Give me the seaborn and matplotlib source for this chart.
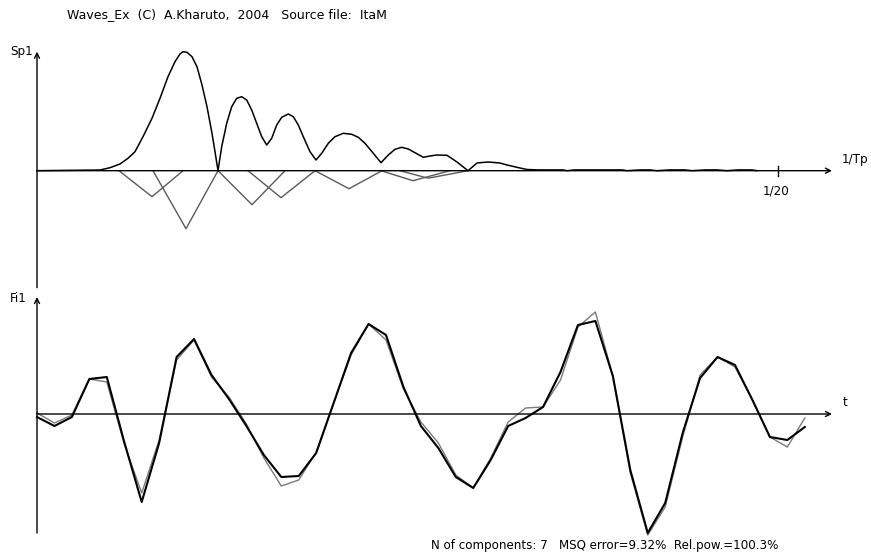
import numpy as np
import pandas as pd
import seaborn as sns
import matplotlib.pyplot as plt

# ---- spectrum panel (Sp1 vs 1/Tp) ----
# x: frequency position (tick "1/20" sits at F20), y: amplitude
F20 = 741
spec_x = [0, 63, 73, 83, 91, 98, 106, 115, 123, 131, 138, 143, 146, 150, 155, 160,
          165, 170, 175, 178, 181, 184.7, 189.7, 194.7, 199.7, 204.7, 209.7, 214.7,
          219.7, 224.7, 229.7, 234.7, 239.7, 244.7, 251.3, 256.3, 261.3, 266.3, 273,
          279, 284.7, 291.3, 298, 306.3, 314.7, 321.3, 328, 336.3, 344, 351.3, 358,
          364.7, 371.3, 378, 386.3, 393, 399.7, 410, 420, 431, 440, 451, 463, 470,
          483, 490, 500, 526, 530, 538, 585, 590, 603, 613, 620, 633, 648, 655, 668,
          680, 690, 701, 715, 720]
spec_y = [0, 0.7, 3, 6.7, 12.4, 19, 34, 52.4, 72.4, 94, 109, 116.7, 119, 118.4, 114,
          104, 85.7, 64, 37.4, 19, 0, 24, 47.4, 64, 72.4, 74, 70.7, 60.7, 47.4, 34,
          25.7, 32.4, 45.7, 53.4, 56.7, 54, 45.7, 34, 19, 10.7, 17.4, 27.4, 34, 37.4,
          36.4, 33.4, 27.4, 17.4, 8, 15.7, 21.4, 23.4, 21.7, 18, 13.4, 14.7, 15.7,
          15.4, 8.7, 0, 7.7, 8.7, 7.7, 5.7, 2.7, 1.2, 0.8, 0.8, 0, 0.8, 0.8, 0, 0.8,
          0.8, 0, 0.8, 0.8, 0, 0.8, 0.8, 0, 0.8, 0.8, 0]

# individual components drawn as triangles below the axis
comp_id = [1, 1, 1, 2, 2, 2, 3, 3, 3, 4, 4, 4, 5, 5, 5, 6, 6, 6, 7, 7, 7]
comp_x = [82, 115, 146, 116, 149, 181, 181, 215, 248, 211, 244, 278,
          278, 312, 345, 344, 376, 413, 363, 391, 431]
comp_y = [0, -26, 0, 0, -58, 0, 0, -34, 0, 0, -27, 0,
          0, -18, 0, 0, -10, 0, 0, -7.5, 0]

# ---- wave panel (Fi1 vs t) ----
t = list(range(45))
fi_source = [-3, -12, -3, 35, 37, -28, -88, -29, 57, 75, 39, 15, -12, -41, -63, -62,
             -39, 11, 61, 90, 79, 27, -12, -34, -63, -74, -46, -12, -4, 7, 42, 89, 93,
             38, -56, -119, -89, -19, 36, 57, 49, 14, -23, -26, -13]
fi_model = [1, -9, -1, 35, 32, -30, -79, -26, 54, 74, 37, 17, -10, -44, -72, -66,
            -38, 11, 59, 90, 74, 25, -8, -29, -61, -74, -44, -8, 6, 7, 34, 87, 102,
            38, -59, -121, -93, -23, 39, 57, 47, 14, -23, -33, -4]

title = "Waves_Ex  (C)  A.Kharuto,  2004   Source file:  ItaM"
footer = "N of components: 7   MSQ error=9.32%  Rel.pow.=100.3%"

W, H = 871, 553
fig = plt.figure(figsize=(W / 100, H / 100), dpi=100)
fig.patch.set_facecolor("white")
plt.rcParams["font.family"] = ["DejaVu Sans"]

ox_top, oy_top = 37, 170.7
ax1 = fig.add_axes([0, 0, 1, 1])
ax1.set_xlim(-ox_top, W - ox_top)
ax1.set_ylim(oy_top - H, oy_top)
ax1.axis("off")
ax1.patch.set_alpha(0)

comp_df = pd.DataFrame({"x": comp_x, "y": comp_y, "comp": comp_id})
sns.lineplot(data=comp_df, x="x", y="y", units="comp", estimator=None, sort=False,
             color="#5a5a5a", lw=1.0, ax=ax1)
sns.lineplot(x=spec_x, y=spec_y, sort=False, estimator=None, color="black",
             lw=1.1, ax=ax1)
arrow = dict(arrowstyle="->", color="black", lw=1.0, shrinkA=0, shrinkB=0,
             mutation_scale=9)
ax1.annotate("", xy=(0, 119), xytext=(0, -117), arrowprops=arrow)
ax1.annotate("", xy=(795, 0), xytext=(0, 0), arrowprops=arrow)
ax1.plot([F20, F20], [-5.3, 4.7], color="black", lw=1.0)

# wave panel in sample units
step, ox_bot, oy_bot = 17.45, 37, 414
ax2 = fig.add_axes([0, 0, 1, 1])
ax2.set_xlim(-ox_bot / step, (W - ox_bot) / step)
ax2.set_ylim(oy_bot - H, oy_bot)
ax2.axis("off")
ax2.patch.set_alpha(0)
sns.lineplot(x=t, y=fi_model, color="#7a7a7a", lw=1.0, ax=ax2)
sns.lineplot(x=t, y=fi_source, color="black", lw=1.5, ax=ax2)
ax2.annotate("", xy=(0, 117), xytext=(0, -119), arrowprops=arrow)
ax2.annotate("", xy=((832 - ox_bot) / step, 0), xytext=(0, 0), arrowprops=arrow)

def px_text(x, y, s, size=8.6, **kw):
    fig.text(x / W, 1 - y / H, s, fontsize=size, color="black", va="center", **kw)

px_text(67, 15, title, size=9)
px_text(10, 51, "Sp1")
px_text(842, 160, "1/Tp")
px_text(763, 191, "1/20")
px_text(10, 298, "Fi1")
px_text(843, 403, "t")
px_text(431, 546, footer)

fig.savefig("out.png", dpi=100)
